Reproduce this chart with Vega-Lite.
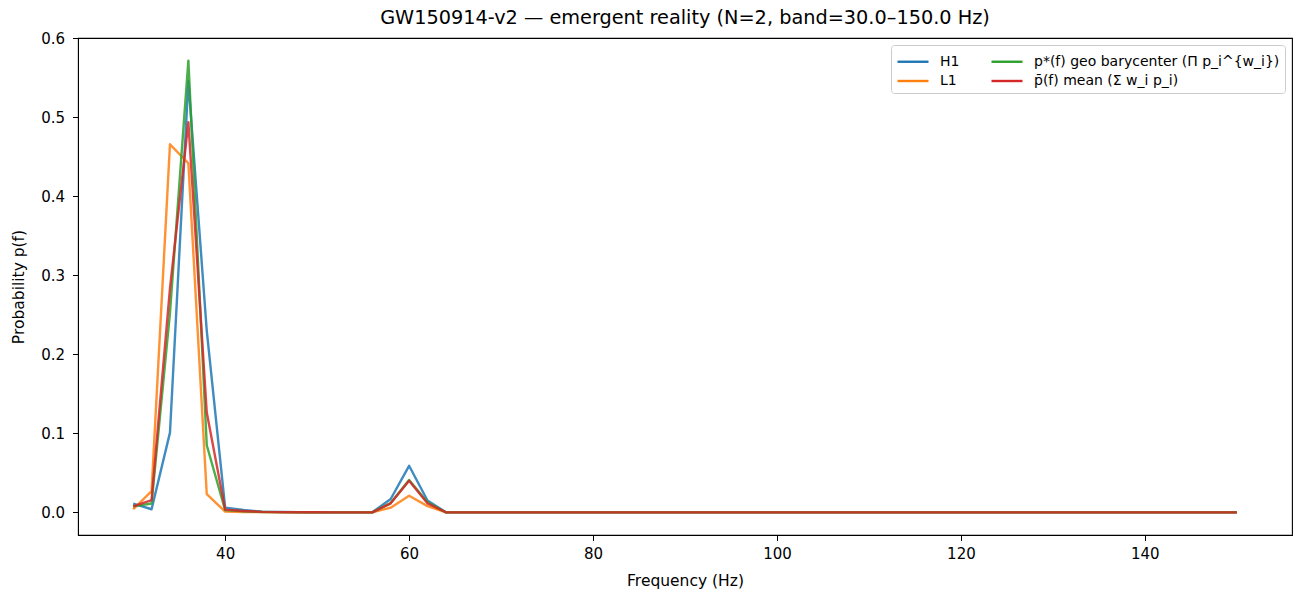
{
  "$schema": "https://vega.github.io/schema/vega-lite/v6.json",
  "autosize": {"type": "none"},
  "padding": {"left": 78, "top": 38, "right": 1, "bottom": 61},
  "width": 1214,
  "height": 497,
  "background": "white",
  "title": {
    "text": "GW150914-v2 — emergent reality (N=2, band=30.0–150.0 Hz)",
    "font": "DejaVu Sans",
    "fontSize": 19.3,
    "fontWeight": "normal",
    "color": "#000",
    "anchor": "middle",
    "offset": 3
  },
  "config": {
    "view": {"stroke": "#000", "strokeWidth": 1.1},
    "axis": {
      "labelFont": "DejaVu Sans",
      "titleFont": "DejaVu Sans",
      "labelFontSize": 15,
      "titleFontSize": 15.5,
      "titleFontWeight": "normal",
      "labelColor": "#000",
      "titleColor": "#000",
      "domainColor": "#000",
      "tickColor": "#000",
      "tickSize": 5.5,
      "grid": false
    },
    "legend": {
      "labelFont": "DejaVu Sans",
      "labelFontSize": 14,
      "labelColor": "#000",
      "labelLimit": 500
    }
  },
  "data": {
    "values": [
      {"s": "H1", "f": 30, "p": 0.011}, {"s": "H1", "f": 32, "p": 0.004}, {"s": "H1", "f": 34, "p": 0.101}, {"s": "H1", "f": 36, "p": 0.546},
      {"s": "H1", "f": 38, "p": 0.23}, {"s": "H1", "f": 40, "p": 0.006}, {"s": "H1", "f": 42, "p": 0.003}, {"s": "H1", "f": 44, "p": 0.001},
      {"s": "H1", "f": 46, "p": 0.0005}, {"s": "H1", "f": 48, "p": 0.0003}, {"s": "H1", "f": 50, "p": 0.0002}, {"s": "H1", "f": 52, "p": 0.0001},
      {"s": "H1", "f": 54, "p": 0.0001}, {"s": "H1", "f": 56, "p": 0.0001}, {"s": "H1", "f": 58, "p": 0.017}, {"s": "H1", "f": 60, "p": 0.059},
      {"s": "H1", "f": 62, "p": 0.015}, {"s": "H1", "f": 64, "p": 0.0002}, {"s": "H1", "f": 66, "p": 0}, {"s": "H1", "f": 68, "p": 0},
      {"s": "H1", "f": 70, "p": 0}, {"s": "H1", "f": 72, "p": 0}, {"s": "H1", "f": 74, "p": 0}, {"s": "H1", "f": 76, "p": 0},
      {"s": "H1", "f": 78, "p": 0}, {"s": "H1", "f": 80, "p": 0}, {"s": "H1", "f": 82, "p": 0}, {"s": "H1", "f": 84, "p": 0},
      {"s": "H1", "f": 86, "p": 0}, {"s": "H1", "f": 88, "p": 0}, {"s": "H1", "f": 90, "p": 0}, {"s": "H1", "f": 92, "p": 0},
      {"s": "H1", "f": 94, "p": 0}, {"s": "H1", "f": 96, "p": 0}, {"s": "H1", "f": 98, "p": 0}, {"s": "H1", "f": 100, "p": 0},
      {"s": "H1", "f": 102, "p": 0}, {"s": "H1", "f": 104, "p": 0}, {"s": "H1", "f": 106, "p": 0}, {"s": "H1", "f": 108, "p": 0},
      {"s": "H1", "f": 110, "p": 0}, {"s": "H1", "f": 112, "p": 0}, {"s": "H1", "f": 114, "p": 0}, {"s": "H1", "f": 116, "p": 0},
      {"s": "H1", "f": 118, "p": 0}, {"s": "H1", "f": 120, "p": 0}, {"s": "H1", "f": 122, "p": 0}, {"s": "H1", "f": 124, "p": 0},
      {"s": "H1", "f": 126, "p": 0}, {"s": "H1", "f": 128, "p": 0}, {"s": "H1", "f": 130, "p": 0}, {"s": "H1", "f": 132, "p": 0},
      {"s": "H1", "f": 134, "p": 0}, {"s": "H1", "f": 136, "p": 0}, {"s": "H1", "f": 138, "p": 0}, {"s": "H1", "f": 140, "p": 0},
      {"s": "H1", "f": 142, "p": 0}, {"s": "H1", "f": 144, "p": 0}, {"s": "H1", "f": 146, "p": 0}, {"s": "H1", "f": 148, "p": 0},
      {"s": "H1", "f": 150, "p": 0},

      {"s": "L1", "f": 30, "p": 0.004}, {"s": "L1", "f": 32, "p": 0.027}, {"s": "L1", "f": 34, "p": 0.466}, {"s": "L1", "f": 36, "p": 0.442},
      {"s": "L1", "f": 38, "p": 0.023}, {"s": "L1", "f": 40, "p": 0.001}, {"s": "L1", "f": 42, "p": 0.0005}, {"s": "L1", "f": 44, "p": 0.0003},
      {"s": "L1", "f": 46, "p": 0.0001}, {"s": "L1", "f": 48, "p": 0.0001}, {"s": "L1", "f": 50, "p": 0.0001}, {"s": "L1", "f": 52, "p": 0.0001},
      {"s": "L1", "f": 54, "p": 0.0001}, {"s": "L1", "f": 56, "p": 0.0001}, {"s": "L1", "f": 58, "p": 0.006}, {"s": "L1", "f": 60, "p": 0.021},
      {"s": "L1", "f": 62, "p": 0.008}, {"s": "L1", "f": 64, "p": 0.0001}, {"s": "L1", "f": 66, "p": 0}, {"s": "L1", "f": 68, "p": 0},
      {"s": "L1", "f": 70, "p": 0}, {"s": "L1", "f": 72, "p": 0}, {"s": "L1", "f": 74, "p": 0}, {"s": "L1", "f": 76, "p": 0},
      {"s": "L1", "f": 78, "p": 0}, {"s": "L1", "f": 80, "p": 0}, {"s": "L1", "f": 82, "p": 0}, {"s": "L1", "f": 84, "p": 0},
      {"s": "L1", "f": 86, "p": 0}, {"s": "L1", "f": 88, "p": 0}, {"s": "L1", "f": 90, "p": 0}, {"s": "L1", "f": 92, "p": 0},
      {"s": "L1", "f": 94, "p": 0}, {"s": "L1", "f": 96, "p": 0}, {"s": "L1", "f": 98, "p": 0}, {"s": "L1", "f": 100, "p": 0},
      {"s": "L1", "f": 102, "p": 0}, {"s": "L1", "f": 104, "p": 0}, {"s": "L1", "f": 106, "p": 0}, {"s": "L1", "f": 108, "p": 0},
      {"s": "L1", "f": 110, "p": 0}, {"s": "L1", "f": 112, "p": 0}, {"s": "L1", "f": 114, "p": 0}, {"s": "L1", "f": 116, "p": 0},
      {"s": "L1", "f": 118, "p": 0}, {"s": "L1", "f": 120, "p": 0}, {"s": "L1", "f": 122, "p": 0}, {"s": "L1", "f": 124, "p": 0},
      {"s": "L1", "f": 126, "p": 0}, {"s": "L1", "f": 128, "p": 0}, {"s": "L1", "f": 130, "p": 0}, {"s": "L1", "f": 132, "p": 0},
      {"s": "L1", "f": 134, "p": 0}, {"s": "L1", "f": 136, "p": 0}, {"s": "L1", "f": 138, "p": 0}, {"s": "L1", "f": 140, "p": 0},
      {"s": "L1", "f": 142, "p": 0}, {"s": "L1", "f": 144, "p": 0}, {"s": "L1", "f": 146, "p": 0}, {"s": "L1", "f": 148, "p": 0},
      {"s": "L1", "f": 150, "p": 0},

      {"s": "p*(f) geo barycenter (Π p_i^{w_i})", "f": 30, "p": 0.0077}, {"s": "p*(f) geo barycenter (Π p_i^{w_i})", "f": 32, "p": 0.0113},
      {"s": "p*(f) geo barycenter (Π p_i^{w_i})", "f": 34, "p": 0.2526}, {"s": "p*(f) geo barycenter (Π p_i^{w_i})", "f": 36, "p": 0.572},
      {"s": "p*(f) geo barycenter (Π p_i^{w_i})", "f": 38, "p": 0.085}, {"s": "p*(f) geo barycenter (Π p_i^{w_i})", "f": 40, "p": 0.0029},
      {"s": "p*(f) geo barycenter (Π p_i^{w_i})", "f": 42, "p": 0.0014}, {"s": "p*(f) geo barycenter (Π p_i^{w_i})", "f": 44, "p": 0.0006},
      {"s": "p*(f) geo barycenter (Π p_i^{w_i})", "f": 46, "p": 0.0003}, {"s": "p*(f) geo barycenter (Π p_i^{w_i})", "f": 48, "p": 0.0002},
      {"s": "p*(f) geo barycenter (Π p_i^{w_i})", "f": 50, "p": 0.0001}, {"s": "p*(f) geo barycenter (Π p_i^{w_i})", "f": 52, "p": 0.0001},
      {"s": "p*(f) geo barycenter (Π p_i^{w_i})", "f": 54, "p": 0.0001}, {"s": "p*(f) geo barycenter (Π p_i^{w_i})", "f": 56, "p": 0.0001},
      {"s": "p*(f) geo barycenter (Π p_i^{w_i})", "f": 58, "p": 0.0118}, {"s": "p*(f) geo barycenter (Π p_i^{w_i})", "f": 60, "p": 0.041},
      {"s": "p*(f) geo barycenter (Π p_i^{w_i})", "f": 62, "p": 0.0127}, {"s": "p*(f) geo barycenter (Π p_i^{w_i})", "f": 64, "p": 0.0001},
      {"s": "p*(f) geo barycenter (Π p_i^{w_i})", "f": 66, "p": 0}, {"s": "p*(f) geo barycenter (Π p_i^{w_i})", "f": 68, "p": 0},
      {"s": "p*(f) geo barycenter (Π p_i^{w_i})", "f": 70, "p": 0}, {"s": "p*(f) geo barycenter (Π p_i^{w_i})", "f": 72, "p": 0},
      {"s": "p*(f) geo barycenter (Π p_i^{w_i})", "f": 74, "p": 0}, {"s": "p*(f) geo barycenter (Π p_i^{w_i})", "f": 76, "p": 0},
      {"s": "p*(f) geo barycenter (Π p_i^{w_i})", "f": 78, "p": 0}, {"s": "p*(f) geo barycenter (Π p_i^{w_i})", "f": 80, "p": 0},
      {"s": "p*(f) geo barycenter (Π p_i^{w_i})", "f": 82, "p": 0}, {"s": "p*(f) geo barycenter (Π p_i^{w_i})", "f": 84, "p": 0},
      {"s": "p*(f) geo barycenter (Π p_i^{w_i})", "f": 86, "p": 0}, {"s": "p*(f) geo barycenter (Π p_i^{w_i})", "f": 88, "p": 0},
      {"s": "p*(f) geo barycenter (Π p_i^{w_i})", "f": 90, "p": 0}, {"s": "p*(f) geo barycenter (Π p_i^{w_i})", "f": 92, "p": 0},
      {"s": "p*(f) geo barycenter (Π p_i^{w_i})", "f": 94, "p": 0}, {"s": "p*(f) geo barycenter (Π p_i^{w_i})", "f": 96, "p": 0},
      {"s": "p*(f) geo barycenter (Π p_i^{w_i})", "f": 98, "p": 0}, {"s": "p*(f) geo barycenter (Π p_i^{w_i})", "f": 100, "p": 0},
      {"s": "p*(f) geo barycenter (Π p_i^{w_i})", "f": 102, "p": 0}, {"s": "p*(f) geo barycenter (Π p_i^{w_i})", "f": 104, "p": 0},
      {"s": "p*(f) geo barycenter (Π p_i^{w_i})", "f": 106, "p": 0}, {"s": "p*(f) geo barycenter (Π p_i^{w_i})", "f": 108, "p": 0},
      {"s": "p*(f) geo barycenter (Π p_i^{w_i})", "f": 110, "p": 0}, {"s": "p*(f) geo barycenter (Π p_i^{w_i})", "f": 112, "p": 0},
      {"s": "p*(f) geo barycenter (Π p_i^{w_i})", "f": 114, "p": 0}, {"s": "p*(f) geo barycenter (Π p_i^{w_i})", "f": 116, "p": 0},
      {"s": "p*(f) geo barycenter (Π p_i^{w_i})", "f": 118, "p": 0}, {"s": "p*(f) geo barycenter (Π p_i^{w_i})", "f": 120, "p": 0},
      {"s": "p*(f) geo barycenter (Π p_i^{w_i})", "f": 122, "p": 0}, {"s": "p*(f) geo barycenter (Π p_i^{w_i})", "f": 124, "p": 0},
      {"s": "p*(f) geo barycenter (Π p_i^{w_i})", "f": 126, "p": 0}, {"s": "p*(f) geo barycenter (Π p_i^{w_i})", "f": 128, "p": 0},
      {"s": "p*(f) geo barycenter (Π p_i^{w_i})", "f": 130, "p": 0}, {"s": "p*(f) geo barycenter (Π p_i^{w_i})", "f": 132, "p": 0},
      {"s": "p*(f) geo barycenter (Π p_i^{w_i})", "f": 134, "p": 0}, {"s": "p*(f) geo barycenter (Π p_i^{w_i})", "f": 136, "p": 0},
      {"s": "p*(f) geo barycenter (Π p_i^{w_i})", "f": 138, "p": 0}, {"s": "p*(f) geo barycenter (Π p_i^{w_i})", "f": 140, "p": 0},
      {"s": "p*(f) geo barycenter (Π p_i^{w_i})", "f": 142, "p": 0}, {"s": "p*(f) geo barycenter (Π p_i^{w_i})", "f": 144, "p": 0},
      {"s": "p*(f) geo barycenter (Π p_i^{w_i})", "f": 146, "p": 0}, {"s": "p*(f) geo barycenter (Π p_i^{w_i})", "f": 148, "p": 0},
      {"s": "p*(f) geo barycenter (Π p_i^{w_i})", "f": 150, "p": 0},

      {"s": "p̄(f) mean (Σ w_i p_i)", "f": 30, "p": 0.0075}, {"s": "p̄(f) mean (Σ w_i p_i)", "f": 32, "p": 0.0155},
      {"s": "p̄(f) mean (Σ w_i p_i)", "f": 34, "p": 0.2835}, {"s": "p̄(f) mean (Σ w_i p_i)", "f": 36, "p": 0.494},
      {"s": "p̄(f) mean (Σ w_i p_i)", "f": 38, "p": 0.1265}, {"s": "p̄(f) mean (Σ w_i p_i)", "f": 40, "p": 0.0035},
      {"s": "p̄(f) mean (Σ w_i p_i)", "f": 42, "p": 0.0018}, {"s": "p̄(f) mean (Σ w_i p_i)", "f": 44, "p": 0.0007},
      {"s": "p̄(f) mean (Σ w_i p_i)", "f": 46, "p": 0.0003}, {"s": "p̄(f) mean (Σ w_i p_i)", "f": 48, "p": 0.0002},
      {"s": "p̄(f) mean (Σ w_i p_i)", "f": 50, "p": 0.0002}, {"s": "p̄(f) mean (Σ w_i p_i)", "f": 52, "p": 0.0001},
      {"s": "p̄(f) mean (Σ w_i p_i)", "f": 54, "p": 0.0001}, {"s": "p̄(f) mean (Σ w_i p_i)", "f": 56, "p": 0.0001},
      {"s": "p̄(f) mean (Σ w_i p_i)", "f": 58, "p": 0.0115}, {"s": "p̄(f) mean (Σ w_i p_i)", "f": 60, "p": 0.04},
      {"s": "p̄(f) mean (Σ w_i p_i)", "f": 62, "p": 0.0115}, {"s": "p̄(f) mean (Σ w_i p_i)", "f": 64, "p": 0.0002},
      {"s": "p̄(f) mean (Σ w_i p_i)", "f": 66, "p": 0}, {"s": "p̄(f) mean (Σ w_i p_i)", "f": 68, "p": 0},
      {"s": "p̄(f) mean (Σ w_i p_i)", "f": 70, "p": 0}, {"s": "p̄(f) mean (Σ w_i p_i)", "f": 72, "p": 0},
      {"s": "p̄(f) mean (Σ w_i p_i)", "f": 74, "p": 0}, {"s": "p̄(f) mean (Σ w_i p_i)", "f": 76, "p": 0},
      {"s": "p̄(f) mean (Σ w_i p_i)", "f": 78, "p": 0}, {"s": "p̄(f) mean (Σ w_i p_i)", "f": 80, "p": 0},
      {"s": "p̄(f) mean (Σ w_i p_i)", "f": 82, "p": 0}, {"s": "p̄(f) mean (Σ w_i p_i)", "f": 84, "p": 0},
      {"s": "p̄(f) mean (Σ w_i p_i)", "f": 86, "p": 0}, {"s": "p̄(f) mean (Σ w_i p_i)", "f": 88, "p": 0},
      {"s": "p̄(f) mean (Σ w_i p_i)", "f": 90, "p": 0}, {"s": "p̄(f) mean (Σ w_i p_i)", "f": 92, "p": 0},
      {"s": "p̄(f) mean (Σ w_i p_i)", "f": 94, "p": 0}, {"s": "p̄(f) mean (Σ w_i p_i)", "f": 96, "p": 0},
      {"s": "p̄(f) mean (Σ w_i p_i)", "f": 98, "p": 0}, {"s": "p̄(f) mean (Σ w_i p_i)", "f": 100, "p": 0},
      {"s": "p̄(f) mean (Σ w_i p_i)", "f": 102, "p": 0}, {"s": "p̄(f) mean (Σ w_i p_i)", "f": 104, "p": 0},
      {"s": "p̄(f) mean (Σ w_i p_i)", "f": 106, "p": 0}, {"s": "p̄(f) mean (Σ w_i p_i)", "f": 108, "p": 0},
      {"s": "p̄(f) mean (Σ w_i p_i)", "f": 110, "p": 0}, {"s": "p̄(f) mean (Σ w_i p_i)", "f": 112, "p": 0},
      {"s": "p̄(f) mean (Σ w_i p_i)", "f": 114, "p": 0}, {"s": "p̄(f) mean (Σ w_i p_i)", "f": 116, "p": 0},
      {"s": "p̄(f) mean (Σ w_i p_i)", "f": 118, "p": 0}, {"s": "p̄(f) mean (Σ w_i p_i)", "f": 120, "p": 0},
      {"s": "p̄(f) mean (Σ w_i p_i)", "f": 122, "p": 0}, {"s": "p̄(f) mean (Σ w_i p_i)", "f": 124, "p": 0},
      {"s": "p̄(f) mean (Σ w_i p_i)", "f": 126, "p": 0}, {"s": "p̄(f) mean (Σ w_i p_i)", "f": 128, "p": 0},
      {"s": "p̄(f) mean (Σ w_i p_i)", "f": 130, "p": 0}, {"s": "p̄(f) mean (Σ w_i p_i)", "f": 132, "p": 0},
      {"s": "p̄(f) mean (Σ w_i p_i)", "f": 134, "p": 0}, {"s": "p̄(f) mean (Σ w_i p_i)", "f": 136, "p": 0},
      {"s": "p̄(f) mean (Σ w_i p_i)", "f": 138, "p": 0}, {"s": "p̄(f) mean (Σ w_i p_i)", "f": 140, "p": 0},
      {"s": "p̄(f) mean (Σ w_i p_i)", "f": 142, "p": 0}, {"s": "p̄(f) mean (Σ w_i p_i)", "f": 144, "p": 0},
      {"s": "p̄(f) mean (Σ w_i p_i)", "f": 146, "p": 0}, {"s": "p̄(f) mean (Σ w_i p_i)", "f": 148, "p": 0},
      {"s": "p̄(f) mean (Σ w_i p_i)", "f": 150, "p": 0}
    ]
  },
  "mark": {"type": "line", "strokeWidth": 2.4, "strokeOpacity": 0.85, "strokeJoin": "round"},
  "encoding": {
    "x": {
      "field": "f",
      "type": "quantitative",
      "title": "Frequency (Hz)",
      "scale": {"domain": [24, 156], "nice": false, "zero": false},
      "axis": {"values": [40, 60, 80, 100, 120, 140], "labelPadding": 6, "titlePadding": 12}
    },
    "y": {
      "field": "p",
      "type": "quantitative",
      "title": "Probability p(f)",
      "scale": {"domain": [-0.0286, 0.6006], "nice": false, "zero": false},
      "axis": {"values": [0, 0.1, 0.2, 0.3, 0.4, 0.5, 0.6], "format": ".1f", "labelPadding": 8, "titlePadding": 14}
    },
    "color": {
      "field": "s",
      "type": "nominal",
      "scale": {
        "domain": ["H1", "L1", "p*(f) geo barycenter (Π p_i^{w_i})", "p̄(f) mean (Σ w_i p_i)"],
        "range": ["#1f77b4", "#ff7f0e", "#2ca02c", "#d62728"]
      },
      "legend": {
        "title": null,
        "orient": "top-right",
        "offset": 7,
        "columns": 2,
        "columnPadding": 26,
        "rowPadding": 0.5,
        "symbolType": "M-1,0L2.1,0",
        "symbolSize": 400,
        "symbolStrokeWidth": 2.4,
        "symbolFillColor": "transparent",
        "labelOffset": 21,
        "padding": 5,
        "strokeColor": "#cccccc",
        "fillColor": "rgba(255,255,255,0.8)",
        "cornerRadius": 3
      }
    }
  }
}
